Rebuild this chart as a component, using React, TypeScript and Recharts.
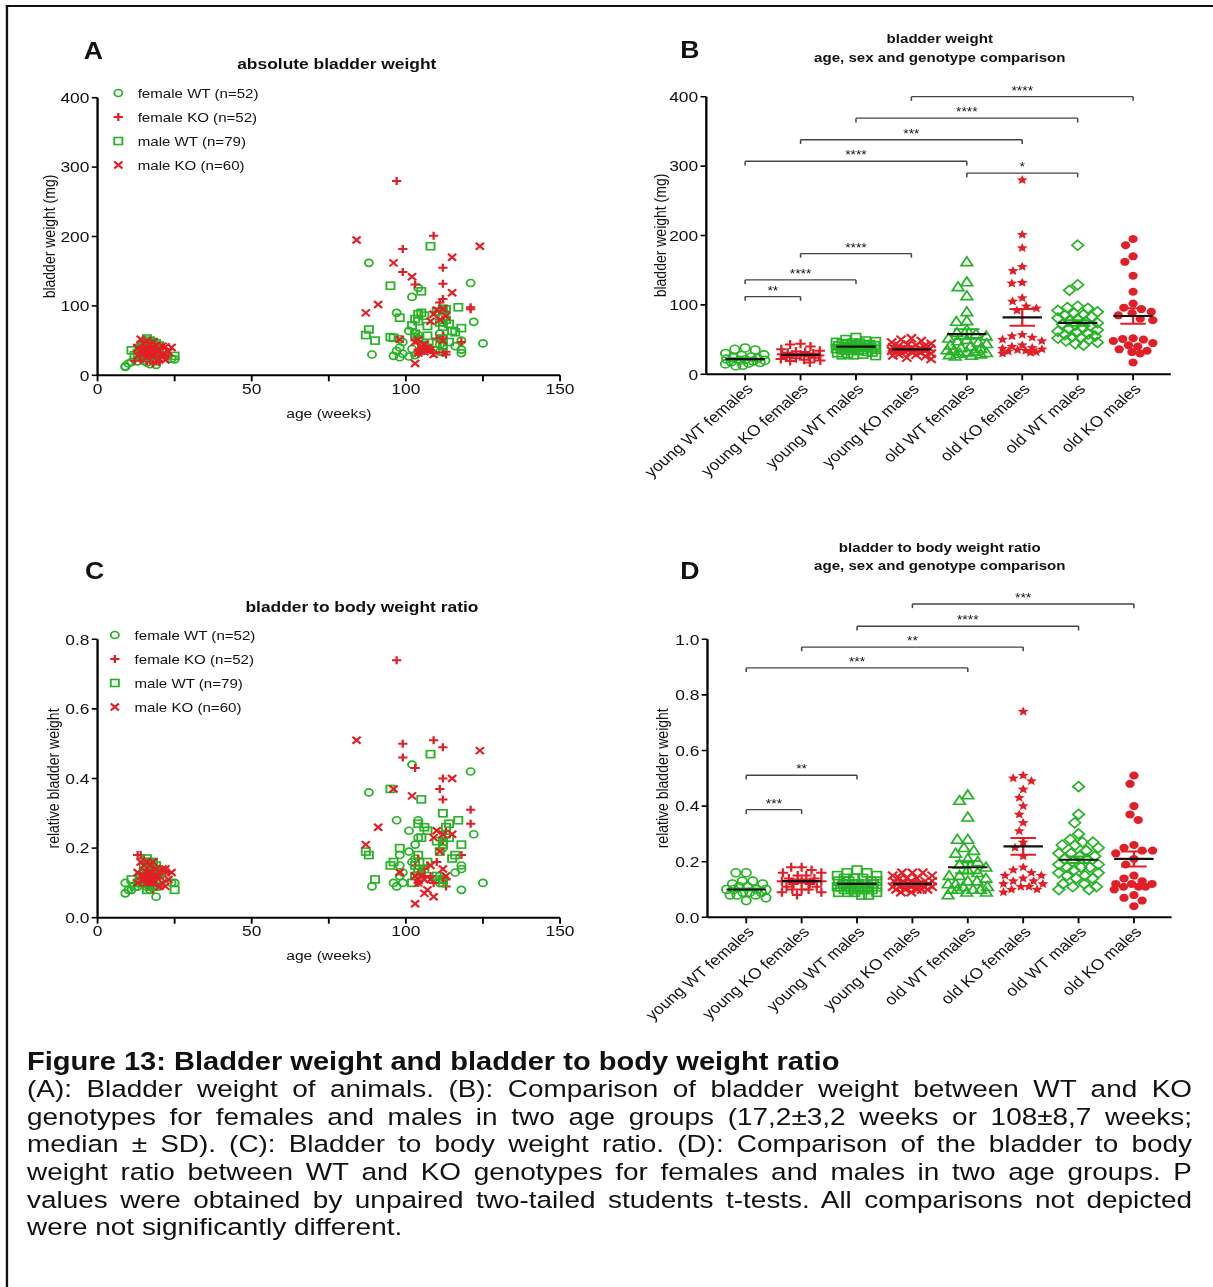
import React from 'react';
import { ScatterChart, Scatter, XAxis, YAxis, ReferenceLine, ErrorBar, Legend } from 'recharts';

const FONT = '"Liberation Sans", Arial, Helvetica, sans-serif';
const GREEN = '#26b326';
const RED = '#e21f26';
const INK = '#111111';
// the source figure is printed a little wider than tall
const STRETCH = 1.16;
const CAPTION_STRETCH = 1.14;

const groupNames = [
  'young WT females',
  'young KO females',
  'young WT males',
  'young KO males',
  'old WT females',
  'old KO females',
  'old WT males',
  'old KO males',
];

// young WT females
const ywfAge = [17, 16, 18, 15, 14, 17, 16, 24, 25, 18, 15, 19, 13, 11, 16, 10, 17, 19, 9, 9];
const ywfWeight = [38, 36, 35, 30, 28, 27, 25, 24, 23, 22, 21, 20, 20, 19, 18, 17, 16, 15, 13, 12];
const ywfRatio = [0.16, 0.16, 0.13, 0.13, 0.12, 0.12, 0.11, 0.1, 0.1, 0.11, 0.1, 0.09, 0.09, 0.08, 0.09, 0.08, 0.08, 0.06, 0.07, 0.1];

// young KO females
const ykfAge = [13, 14, 15, 16, 17, 17, 18, 19, 20, 21, 22, 23, 15, 16, 17, 18, 19, 14, 12, 16, 20, 18];
const ykfWeight = [44, 43, 40, 36, 34, 33, 32, 31, 30, 29, 28, 28, 27, 26, 25, 24, 23, 22, 21, 20, 19, 17];
const ykfRatio = [0.18, 0.18, 0.17, 0.16, 0.16, 0.15, 0.15, 0.14, 0.14, 0.13, 0.13, 0.13, 0.12, 0.12, 0.11, 0.11, 0.1, 0.1, 0.1, 0.09, 0.09, 0.08];

// young WT males
const ywmAge = [16, 17, 18, 15, 19, 17, 16, 18, 20, 17, 16, 15, 18, 19, 17, 16, 14, 18, 17, 20, 15, 16, 19, 18, 17, 16, 15, 14, 13, 17, 18, 12, 19, 16, 11, 25];
const ywmWeight = [53, 50, 48, 47, 46, 45, 45, 44, 43, 43, 42, 42, 41, 41, 40, 40, 39, 39, 38, 38, 37, 37, 36, 36, 35, 35, 34, 33, 32, 31, 30, 29, 28, 27, 36, 28];
const ywmRatio = [0.17, 0.16, 0.16, 0.15, 0.15, 0.14, 0.14, 0.14, 0.13, 0.13, 0.13, 0.13, 0.12, 0.12, 0.12, 0.12, 0.12, 0.12, 0.11, 0.11, 0.11, 0.11, 0.11, 0.11, 0.1, 0.1, 0.1, 0.1, 0.1, 0.09, 0.09, 0.09, 0.09, 0.08, 0.11, 0.08];

// young KO males
const ykmAge = [14, 16, 18, 15, 17, 19, 21, 22, 24, 13, 16, 17, 18, 15, 20, 14, 16, 19, 17, 23, 18, 15, 16, 21, 17, 13, 18, 16, 20, 22];
const ykmWeight = [52, 50, 48, 46, 44, 43, 42, 41, 40, 39, 38, 38, 37, 37, 36, 36, 35, 35, 34, 34, 33, 32, 31, 30, 29, 28, 27, 26, 24, 22];
const ykmRatio = [0.16, 0.16, 0.16, 0.15, 0.15, 0.14, 0.14, 0.14, 0.13, 0.13, 0.13, 0.13, 0.12, 0.12, 0.12, 0.12, 0.12, 0.12, 0.11, 0.11, 0.11, 0.11, 0.11, 0.1, 0.1, 0.1, 0.1, 0.1, 0.09, 0.09];

// old WT females
const owfAge = [88, 121, 104, 102, 97, 122, 112, 101, 111, 104, 103, 98, 118, 99, 125, 111, 116, 98, 102, 118, 97, 111, 112, 118, 99, 89, 103, 96, 101, 98];
const owfWeight = [162, 133, 126, 113, 90, 77, 76, 64, 60, 58, 55, 52, 50, 48, 46, 44, 42, 40, 38, 37, 35, 34, 33, 32, 31, 30, 29, 28, 27, 26];
const owfRatio = [0.36, 0.42, 0.28, 0.44, 0.28, 0.24, 0.2, 0.25, 0.1, 0.23, 0.21, 0.15, 0.14, 0.13, 0.1, 0.11, 0.13, 0.12, 0.16, 0.15, 0.09, 0.12, 0.11, 0.08, 0.1, 0.09, 0.17, 0.1, 0.19, 0.18];

// old KO females
const okfAge = [97, 109, 99, 112, 99, 112, 103, 112, 111, 121, 121, 113, 112, 104, 110, 103, 118, 107, 106, 105, 104, 108, 106, 113, 112, 109, 104, 113];
const okfWeight = [280, 201, 182, 155, 149, 132, 131, 110, 105, 98, 95, 92, 57, 55, 53, 50, 48, 42, 40, 38, 37, 36, 35, 34, 33, 32, 31, 30];
const okfRatio = [0.74, 0.51, 0.5, 0.49, 0.46, 0.4, 0.43, 0.34, 0.37, 0.31, 0.27, 0.25, 0.22, 0.17, 0.16, 0.15, 0.18, 0.15, 0.14, 0.13, 0.13, 0.12, 0.12, 0.11, 0.11, 0.1, 0.1, 0.09];

// old WT males
const owmAge = [108, 95, 105, 117, 112, 113, 110, 105, 104, 106, 112, 98, 103, 113, 104, 111, 114, 102, 107, 112, 118, 88, 115, 116, 103, 87, 107, 95, 96, 112, 104, 90, 114, 110, 106, 112];
const owmWeight = [186, 129, 121, 98, 96, 95, 92, 90, 88, 86, 85, 83, 81, 80, 78, 76, 74, 72, 71, 70, 68, 66, 64, 62, 60, 58, 57, 55, 54, 53, 52, 50, 48, 46, 44, 42];
const owmRatio = [0.47, 0.37, 0.34, 0.28, 0.3, 0.24, 0.22, 0.23, 0.27, 0.26, 0.21, 0.2, 0.12, 0.26, 0.18, 0.19, 0.27, 0.1, 0.25, 0.22, 0.21, 0.18, 0.17, 0.18, 0.15, 0.19, 0.16, 0.15, 0.16, 0.11, 0.14, 0.11, 0.23, 0.12, 0.14, 0.1];

// old KO males
const okmAge = [84, 124, 115, 96, 102, 115, 91, 112, 110, 87, 109, 113, 111, 108, 98, 104, 112, 103, 106, 105, 107, 108, 106, 104, 109, 103];
const okmWeight = [195, 186, 170, 162, 142, 119, 102, 96, 94, 90, 88, 85, 80, 78, 52, 51, 50, 48, 45, 42, 40, 36, 34, 32, 30, 17];
const okmRatio = [0.51, 0.48, 0.4, 0.37, 0.35, 0.24, 0.26, 0.24, 0.25, 0.21, 0.23, 0.12, 0.19, 0.15, 0.13, 0.11, 0.14, 0.12, 0.11, 0.12, 0.08, 0.11, 0.07, 0.1, 0.06, 0.04];

// mean and error bars as drawn in B and D
const weightMean = [22, 28, 40, 36, 58, 82, 74, 84];
const weightSem = [1, 1.3, 0.9, 0.9, 7, 12, 4, 11];
const ratioMean = [0.1, 0.13, 0.12, 0.12, 0.18, 0.255, 0.207, 0.21];
const ratioSem = [0.004, 0.006, 0.003, 0.003, 0.022, 0.03, 0.012, 0.027];

const ageTicks = [0, 25, 50, 75, 100, 125, 150];
const weightTicks = [0, 100, 200, 300, 400];
const ratioTicksC = [0, 0.2, 0.4, 0.6, 0.8];
const ratioTicksD = [0, 0.2, 0.4, 0.6, 0.8, 1.0];
const catTicks = [1, 2, 3, 4, 5, 6, 7, 8];

const weightBrackets = [
  { from: 4, to: 8, y: 400, label: '****' },
  { from: 3, to: 7, y: 369, label: '****' },
  { from: 2, to: 6, y: 338, label: '***' },
  { from: 1, to: 5, y: 307, label: '****' },
  { from: 5, to: 7, y: 290, label: '*' },
  { from: 2, to: 4, y: 174, label: '****' },
  { from: 1, to: 3, y: 136, label: '****' },
  { from: 1, to: 2, y: 112, label: '**' },
];
const ratioBrackets = [
  { from: 4, to: 8, y: 1.127, label: '***' },
  { from: 3, to: 7, y: 1.047, label: '****' },
  { from: 2, to: 6, y: 0.972, label: '**' },
  { from: 1, to: 5, y: 0.897, label: '***' },
  { from: 1, to: 3, y: 0.511, label: '**' },
  { from: 1, to: 2, y: 0.387, label: '***' },
];

const captionTitle = 'Figure 13: Bladder weight and bladder to body weight ratio';
const captionLines = [
  '(A): Bladder weight of animals. (B): Comparison of bladder weight between WT and KO',
  'genotypes for females and males in two age groups (17,2±3,2 weeks or 108±8,7 weeks;',
  'median ± SD). (C): Bladder to body weight ratio. (D): Comparison of the bladder to body',
  'weight ratio between WT and KO genotypes for females and males in two age groups. P',
  'values were obtained by unpaired two-tailed students t-tests. All comparisons not depicted',
  'were not significantly different.',
];

type Kind = 'circle' | 'plus' | 'square' | 'cross' | 'triangle' | 'star' | 'diamond' | 'dot';

const Marker = ({ kind, cx, cy, s, color }: { kind: Kind; cx: number; cy: number; s: number; color: string }) => {
  const sw = 1.6;
  switch (kind) {
    case 'circle':
      return <circle cx={cx} cy={cy} r={s} fill="none" stroke={color} strokeWidth={sw} />;
    case 'dot':
      return <circle cx={cx} cy={cy} r={s} fill={color} />;
    case 'square':
      return <rect x={cx - s} y={cy - s} width={2 * s} height={2 * s} fill="none" stroke={color} strokeWidth={sw} />;
    case 'plus':
      return <path d={`M${cx - s},${cy}H${cx + s}M${cx},${cy - s}V${cy + s}`} stroke={color} strokeWidth={2} />;
    case 'cross':
      return <path d={`M${cx - s},${cy - s}L${cx + s},${cy + s}M${cx - s},${cy + s}L${cx + s},${cy - s}`} stroke={color} strokeWidth={2} />;
    case 'triangle':
      return <polygon points={`${cx},${cy - s} ${cx + s},${cy + s * 0.75} ${cx - s},${cy + s * 0.75}`} fill="none" stroke={color} strokeWidth={sw} />;
    case 'diamond':
      return <polygon points={`${cx},${cy - s} ${cx + s},${cy} ${cx},${cy + s} ${cx - s},${cy}`} fill="none" stroke={color} strokeWidth={sw} />;
    case 'star': {
      const pts: string[] = [];
      for (let k = 0; k < 10; k++) {
        const r = k % 2 === 0 ? s : s * 0.45;
        const a = -Math.PI / 2 + (k * Math.PI) / 5;
        pts.push(`${cx + r * Math.cos(a)},${cy + r * Math.sin(a)}`);
      }
      return <polygon points={pts.join(' ')} fill={color} />;
    }
    default:
      return null;
  }
};

const shapeOf = (kind: Kind, s: number, color: string) => (p: any) =>
  <Marker kind={kind} cx={p.cx} cy={p.cy} s={s} color={color} />;

const meanLine = (p: any) => (
  <line x1={p.cx - 17} x2={p.cx + 17} y1={p.cy} y2={p.cy} stroke={INK} strokeWidth={2.2} />
);

// simple beeswarm: spreads equal values sideways (returns pixel offsets)
function swarm(values: number[], pxPerUnit: number, diam: number, maxPx: number) {
  const order = values.map((_, i) => i).sort((a, b) => values[b] - values[a]);
  const placed: { x: number; y: number }[] = [];
  const out: number[] = new Array(values.length).fill(0);
  for (const i of order) {
    const y = values[i] * pxPerUnit;
    const near = placed.filter((p) => Math.abs(p.y - y) < diam);
    const cands = [0];
    near.forEach((p) => {
      const w = Math.sqrt(diam * diam - (p.y - y) ** 2);
      cands.push(p.x - w, p.x + w);
    });
    cands.sort((a, b) => Math.abs(a) - Math.abs(b));
    let best = NaN;
    for (const c of cands) {
      if (Math.abs(c) > maxPx) continue;
      if (near.every((p) => (p.x - c) ** 2 + (p.y - y) ** 2 >= diam * diam - 0.01)) {
        best = c;
        break;
      }
    }
    if (isNaN(best)) {
      let score = -1;
      for (let c = -maxPx; c <= maxPx; c += 1) {
        const d = Math.min(...near.map((p) => Math.hypot(p.x - c, p.y - y)));
        if (d > score) {
          score = d;
          best = c;
        }
      }
    }
    placed.push({ x: best, y });
    out[i] = best;
  }
  return out;
}

const zip = (xs: number[], ys: number[]) => xs.map((x, i) => ({ x, y: ys[i] }));

const groupStyle: { kind: Kind; s: number; color: string }[] = [
  { kind: 'circle', s: 4, color: GREEN },
  { kind: 'plus', s: 4.5, color: RED },
  { kind: 'square', s: 4, color: GREEN },
  { kind: 'cross', s: 4, color: RED },
  { kind: 'triangle', s: 5, color: GREEN },
  { kind: 'star', s: 5, color: RED },
  { kind: 'diamond', s: 5, color: GREEN },
  { kind: 'dot', s: 4, color: RED },
];

const AXIS = { stroke: '#000', strokeWidth: 2 };
const TICK = { stroke: '#000', strokeWidth: 1.6 };

const CAT_DOMAIN: [number, number] = [0.3, 8.68];
const PX_PER_CAT = 400 / (CAT_DOMAIN[1] - CAT_DOMAIN[0]);

type Bracket = { from: number; to: number; y: number; label: string };

function bracketLines(list: Bracket[], drop: number) {
  const line = { stroke: '#444', strokeWidth: 1.3, ifOverflow: 'visible' as const };
  return list.flatMap((b, i) => [
    <ReferenceLine
      key={`h${i}`}
      {...line}
      segment={[{ x: b.from, y: b.y }, { x: b.to, y: b.y }]}
      label={{ value: b.label, position: 'top', offset: 2, fontSize: 12, fill: INK }}
    />,
    <ReferenceLine key={`l${i}`} {...line} segment={[{ x: b.from, y: b.y }, { x: b.from, y: b.y - drop }]} />,
    <ReferenceLine key={`r${i}`} {...line} segment={[{ x: b.to, y: b.y }, { x: b.to, y: b.y - drop }]} />,
  ]);
}

type GroupChartProps = {
  values: number[][];
  mean: number[];
  sem: number[];
  brackets: Bracket[];
  yDomain: [number, number];
  yTicks: number[];
  yFmt: (v: number) => string;
  yLabel: string;
  drop: number;
  width: number;
  height: number;
  margin: { top: number; right: number; bottom: number; left: number };
  labelOffset: number;
};

const GroupChart = ({ values, mean, sem, brackets, yDomain, yTicks, yFmt, yLabel, drop, width, height, margin, labelOffset }: GroupChartProps) => {
  const plotH = height - margin.top - margin.bottom - 120;
  const pxPerUnit = plotH / (yDomain[1] - yDomain[0]);
  const series = values.map((vals, g) => {
    const offs = swarm(vals, pxPerUnit, 9, 17);
    return vals.map((v, i) => ({ x: g + 1 + offs[i] / PX_PER_CAT, y: v }));
  });
  const summary = mean.map((m, i) => ({ x: i + 1, y: m, sem: sem[i] }));
  return (
    <ScatterChart width={width} height={height} margin={margin}>
      <XAxis
        type="number"
        dataKey="x"
        domain={CAT_DOMAIN}
        ticks={catTicks}
        interval={0}
        allowDataOverflow
        tickFormatter={(v: number) => groupNames[Math.round(v) - 1]}
        angle={-45}
        textAnchor="end"
        height={120}
        tickSize={6}
        tick={{ fontSize: 15, fill: INK }}
        axisLine={AXIS}
        tickLine={TICK}
      />
      <YAxis
        type="number"
        dataKey="y"
        domain={yDomain}
        ticks={yTicks}
        interval={0}
        allowDataOverflow
        tickFormatter={yFmt}
        width={50}
        tickSize={5}
        tick={{ fontSize: 15, fill: INK }}
        axisLine={AXIS}
        tickLine={TICK}
        label={{ value: yLabel, angle: -90, position: 'insideLeft', offset: labelOffset, fontSize: 14, fill: INK, style: { textAnchor: 'middle' } }}
      />
      {series.map((data, g) => (
        <Scatter
          key={groupNames[g]}
          name={groupNames[g]}
          data={data}
          isAnimationActive={false}
          shape={shapeOf(groupStyle[g].kind, groupStyle[g].s, groupStyle[g].color)}
        />
      ))}
      <Scatter name="mean green" data={summary.filter((_, i) => i % 2 === 0)} isAnimationActive={false} shape={meanLine}>
        <ErrorBar dataKey="sem" direction="y" width={11} stroke={GREEN} strokeWidth={2} isAnimationActive={false} />
      </Scatter>
      <Scatter name="mean red" data={summary.filter((_, i) => i % 2 === 1)} isAnimationActive={false} shape={meanLine}>
        <ErrorBar dataKey="sem" direction="y" width={11} stroke={RED} strokeWidth={2} isAnimationActive={false} />
      </Scatter>
      {bracketLines(brackets, drop)}
    </ScatterChart>
  );
};

const legendRows: { name: string; kind: Kind; color: string }[] = [
  { name: 'female WT (n=52)', kind: 'circle', color: GREEN },
  { name: 'female KO (n=52)', kind: 'plus', color: RED },
  { name: 'male WT (n=79)', kind: 'square', color: GREEN },
  { name: 'male KO (n=60)', kind: 'cross', color: RED },
];

const AgeLegend = () => (
  <div style={{ fontSize: 13, color: INK }}>
    {legendRows.map((r) => (
      <div key={r.name} style={{ display: 'flex', alignItems: 'center', height: 24 }}>
        <svg width={12} height={12}>
          <Marker kind={r.kind} cx={6} cy={6} s={r.kind === 'plus' ? 4 : 3.5} color={r.color} />
        </svg>
        <span style={{ marginLeft: 11 }}>{r.name}</span>
      </div>
    ))}
  </div>
);

type AgeChartProps = {
  sets: { x: number; y: number }[][];
  yDomain: [number, number];
  yTicks: number[];
  yFmt: (v: number) => string;
  yLabel: string;
  height: number;
  margin: { top: number; right: number; bottom: number; left: number };
  legendPos: { left: number; top: number };
  labelOffset: number;
};

const AgeChart = ({ sets, yDomain, yTicks, yFmt, yLabel, height, margin, legendPos, labelOffset }: AgeChartProps) => (
  <ScatterChart width={520} height={height} margin={margin}>
    <XAxis
      type="number"
      dataKey="x"
      domain={[0, 150]}
      ticks={ageTicks}
      interval={0}
      tickFormatter={(v: number) => (v % 50 === 0 ? String(v) : '')}
      height={30}
      tickSize={6}
      tick={{ fontSize: 15, fill: INK }}
      axisLine={AXIS}
      tickLine={TICK}
      label={{ value: 'age (weeks)', position: 'bottom', offset: 3, fontSize: 13.5, fill: INK }}
    />
    <YAxis
      type="number"
      dataKey="y"
      domain={yDomain}
      ticks={yTicks}
      interval={0}
      tickFormatter={yFmt}
      width={40}
      tickSize={5}
      tick={{ fontSize: 15, fill: INK }}
      axisLine={AXIS}
      tickLine={TICK}
      label={{ value: yLabel, angle: -90, position: 'insideLeft', offset: labelOffset, fontSize: 14, fill: INK, style: { textAnchor: 'middle' } }}
    />
    <Legend
      layout="vertical"
      align="center"
      verticalAlign="middle"
      wrapperStyle={{ left: legendPos.left, top: legendPos.top, width: 'auto' }}
      content={() => <AgeLegend />}
    />
    {sets.map((data, k) => (
      <Scatter
        key={legendRows[k].name}
        name={legendRows[k].name}
        data={data}
        isAnimationActive={false}
        shape={shapeOf(legendRows[k].kind, legendRows[k].kind === 'plus' ? 4 : 3.5, legendRows[k].color)}
      />
    ))}
  </ScatterChart>
);

const Txt = ({ x, y, size, bold, children }: { x: number; y: number; size: number; bold?: boolean; children: React.ReactNode }) => (
  <div
    style={{
      position: 'absolute',
      left: x - 300,
      top: y - size * 0.6,
      width: 600,
      textAlign: 'center',
      fontSize: size,
      lineHeight: `${size * 1.2}px`,
      fontWeight: bold ? 700 : 400,
      whiteSpace: 'nowrap',
    }}
  >
    {children}
  </div>
);

const fmtInt = (v: number) => String(v);
const fmt1 = (v: number) => v.toFixed(1);

export default function App() {
  const weightSetsA = [
    [...zip(ywfAge, ywfWeight), ...zip(owfAge, owfWeight)],
    [...zip(ykfAge, ykfWeight), ...zip(okfAge, okfWeight)],
    [...zip(ywmAge, ywmWeight), ...zip(owmAge, owmWeight)],
    [...zip(ykmAge, ykmWeight), ...zip(okmAge, okmWeight)],
  ];
  const ratioSetsC = [
    [...zip(ywfAge, ywfRatio), ...zip(owfAge, owfRatio)],
    [...zip(ykfAge, ykfRatio), ...zip(okfAge, okfRatio)],
    [...zip(ywmAge, ywmRatio), ...zip(owmAge, owmRatio)],
    [...zip(ykmAge, ykmRatio), ...zip(okmAge, okmRatio)],
  ];
  const weightGroups = [ywfWeight, ykfWeight, ywmWeight, ykmWeight, owfWeight, okfWeight, owmWeight, okmWeight];
  const ratioGroups = [ywfRatio, ykfRatio, ywmRatio, ykmRatio, owfRatio, okfRatio, owmRatio, okmRatio];

  return (
    <div style={{ position: 'fixed', left: 0, top: 0, width: 1213, height: 1287, overflow: 'hidden', background: '#fff', fontFamily: FONT, color: INK }}>
      <div
        style={{
          position: 'absolute',
          left: 0,
          top: 0,
          width: 1046,
          height: 1287,
          transform: `scaleX(${STRETCH})`,
          transformOrigin: '0 0',
        }}
      >
        <div style={{ position: 'absolute', left: 5, top: 5, width: 1100, height: 1300, borderTop: '2px solid #111', borderLeft: '2px solid #111' }} />

        <div style={{ position: 'absolute', left: 0, top: 0 }}>
          <AgeChart
            sets={weightSetsA}
            yDomain={[0, 400]}
            yTicks={weightTicks}
            yFmt={fmtInt}
            yLabel="bladder weight (mg)"
            height={440}
            margin={{ top: 97.7, right: 37.2, bottom: 34.7, left: 44.1 }}
            legendPos={{ left: 95.7, top: 81 }}
            labelOffset={-2}
          />
        </div>
        <div style={{ position: 'absolute', left: 540, top: 0 }}>
          <GroupChart
            values={weightGroups}
            mean={weightMean}
            sem={weightSem}
            brackets={weightBrackets}
            yDomain={[0, 400]}
            yTicks={weightTicks}
            yFmt={fmtInt}
            yLabel="bladder weight (mg)"
            drop={6}
            width={500}
            height={520}
            margin={{ top: 96.7, right: 30.7, bottom: 25.7, left: 18.9 }}
            labelOffset={10.6}
          />
        </div>
        <div style={{ position: 'absolute', left: 0, top: 520 }}>
          <AgeChart
            sets={ratioSetsC}
            yDomain={[0, 0.8]}
            yTicks={ratioTicksC}
            yFmt={fmt1}
            yLabel="relative bladder weight"
            height={460}
            margin={{ top: 119.3, right: 37.2, bottom: 32.3, left: 44.1 }}
            legendPos={{ left: 93, top: 103 }}
            labelOffset={2}
          />
        </div>
        <div style={{ position: 'absolute', left: 540, top: 500 }}>
          <GroupChart
            values={ratioGroups}
            mean={ratioMean}
            sem={ratioSem}
            brackets={ratioBrackets}
            yDomain={[0, 1]}
            yTicks={ratioTicksD}
            yFmt={fmt1}
            yLabel="relative bladder weight"
            drop={0.015}
            width={500}
            height={540}
            margin={{ top: 139.3, right: 30, bottom: 2.7, left: 19.9 }}
            labelOffset={11.2}
          />
        </div>

        <Txt x={80.5} y={51.7} size={23} bold>A</Txt>
        <Txt x={594.7} y={50.8} size={23} bold>B</Txt>
        <Txt x={81.5} y={571.7} size={23} bold>C</Txt>
        <Txt x={594.7} y={571.7} size={23} bold>D</Txt>

        <Txt x={290.3} y={63.5} size={15} bold>absolute bladder weight</Txt>
        <Txt x={810.2} y={39} size={13} bold>bladder weight</Txt>
        <Txt x={810.2} y={57.5} size={13} bold>age, sex and genotype comparison</Txt>
        <Txt x={312} y={607} size={15} bold>bladder to body weight ratio</Txt>
        <Txt x={810.2} y={547.8} size={13} bold>bladder to body weight ratio</Txt>
        <Txt x={810.2} y={565.8} size={13} bold>age, sex and genotype comparison</Txt>
      </div>

      <div
        style={{
          position: 'absolute',
          left: 27,
          top: 1047.5,
          width: 1165 / CAPTION_STRETCH,
          fontSize: 24.5,
          lineHeight: '27.65px',
          transform: `scaleX(${CAPTION_STRETCH})`,
          transformOrigin: '0 0',
        }}
      >
        <div style={{ fontWeight: 700, fontSize: 25.5 }}>{captionTitle}</div>
        {captionLines.map((t, i) => (
          <div
            key={i}
            style={{
              textAlign: 'justify',
              textAlignLast: i === captionLines.length - 1 ? 'left' : 'justify',
              whiteSpace: 'nowrap',
            }}
          >
            {t}
          </div>
        ))}
      </div>
    </div>
  );
}
